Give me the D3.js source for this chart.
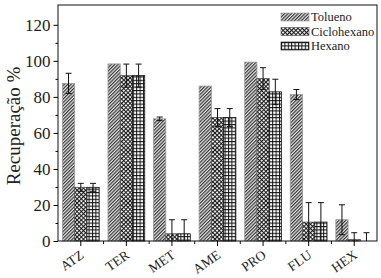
<!DOCTYPE html>
<html>
<head>
<meta charset="utf-8">
<script src="https://cdn.jsdelivr.net/npm/d3@7"></script>
<style>
  body { margin: 0; background: #fff; }
  text { font-family: "Liberation Serif", "Times New Roman", serif; fill: #222; }
</style>
</head>
<body>
<div id="chart-area"></div>
<script>
// data
var categories = ["ATZ", "TER", "MET", "AME", "PRO", "FLU", "HEX"];
var series = ["Tolueno", "Ciclohexano", "Hexano"];

var tolueno    = [87.5, 98.3, 67.8, 86.0, 99.3, 81.3, 11.8];
var toluenoErr = [5.6, 0, 1.0, 0, 0, 2.8, 8.3];
var ciclo      = [29.8, 91.8, 4.0, 68.5, 90.2, 10.5, 0.8];
var cicloErr   = [2.2, 6.4, 7.8, 5.0, 6.0, 10.8, 3.8];
var hexano     = [29.8, 91.8, 4.0, 68.5, 82.8, 10.5, 0];
var hexanoErr  = [2.2, 6.4, 7.8, 5.0, 7.0, 10.8, 4.6];

var yTicks = [0, 20, 40, 60, 80, 100, 120];
var yMinor = [10, 30, 50, 70, 90, 110];

var values = [tolueno, ciclo, hexano];
var errors = [toluenoErr, cicloErr, hexanoErr];

var margin = { left: 58, right: 4, top: 5, bottom: 37 };
var width = 381 - margin.left - margin.right,
    height = 278 - margin.top - margin.bottom;

var svg = d3.select("#chart-area")
    .append("svg")
        .attr("width", width + margin.left + margin.right)
        .attr("height", height + margin.top + margin.bottom);

// fill patterns
var defs = svg.append("defs");

var p1 = defs.append("pattern")
    .attr("id", "pat-tol")
    .attr("patternUnits", "userSpaceOnUse")
    .attr("width", 2.4).attr("height", 2.4)
    .attr("patternTransform", "rotate(45)");
p1.append("rect").attr("width", 2.4).attr("height", 2.4).attr("fill", "#e4e4e4");
p1.append("line").attr("x1", 0.6).attr("y1", 0).attr("x2", 0.6).attr("y2", 2.4)
    .attr("stroke", "#2a2a2a").attr("stroke-width", 1.1);

var p2 = defs.append("pattern")
    .attr("id", "pat-cic")
    .attr("patternUnits", "userSpaceOnUse")
    .attr("width", 3).attr("height", 3)
    .attr("patternTransform", "rotate(45)");
p2.append("rect").attr("width", 3).attr("height", 3).attr("fill", "#fff");
p2.append("line").attr("x1", 0.5).attr("y1", 0).attr("x2", 0.5).attr("y2", 3)
    .attr("stroke", "#1a1a1a").attr("stroke-width", 1.2);
p2.append("line").attr("x1", 0).attr("y1", 0.5).attr("x2", 3).attr("y2", 0.5)
    .attr("stroke", "#1a1a1a").attr("stroke-width", 1.2);

var p3 = defs.append("pattern")
    .attr("id", "pat-hex")
    .attr("patternUnits", "userSpaceOnUse")
    .attr("width", 3.4).attr("height", 3.4);
p3.append("rect").attr("width", 3.4).attr("height", 3.4).attr("fill", "#fff");
p3.append("path").attr("d", "M0,0.5H3.4M0.5,0V3.4")
    .attr("stroke", "#111").attr("stroke-width", 1);

var fills = ["url(#pat-tol)", "url(#pat-cic)", "url(#pat-hex)"];
var strokes = ["#999", "#555", "#111"];

var g = svg.append("g")
    .attr("transform", "translate(" + margin.left + ", " + margin.top + ")");

// scales
var x0 = d3.scaleBand()
    .domain(categories)
    .range([0, width])
    .padding(0);

var x1 = d3.scaleBand()
    .domain(series)
    .range([0, x0.bandwidth()])
    .paddingInner(0)
    .paddingOuter(0.36);

var y = d3.scaleLinear()
    .domain([0, 131])
    .range([height, 0]);

// bars
var rows = [];
series.forEach(function(s, i) {
    categories.forEach(function(c, j) {
        rows.push({ cat: c, ser: s, i: i, value: values[i][j], err: errors[i][j] });
    });
});

g.selectAll("rect.bar")
    .data(rows)
    .enter()
    .append("rect")
        .attr("class", "bar")
        .attr("x", function(d) { return x0(d.cat) + x1(d.ser); })
        .attr("width", x1.bandwidth())
        .attr("y", function(d) { return y(d.value); })
        .attr("height", function(d) { return height - y(d.value); })
        .attr("fill", function(d) { return fills[d.i]; })
        .attr("stroke", function(d) { return strokes[d.i]; })
        .attr("stroke-width", 0.8);

// error bars
var errs = rows.filter(function(d) { return d.err > 0; });
var cap = 3;

var eb = g.selectAll("g.err")
    .data(errs)
    .enter()
    .append("g")
        .attr("class", "err")
        .attr("transform", function(d) {
            return "translate(" + (x0(d.cat) + x1(d.ser) + x1.bandwidth() / 2) + ",0)";
        });

eb.append("line")
    .attr("x1", 0).attr("x2", 0)
    .attr("y1", function(d) { return y(d.value + d.err); })
    .attr("y2", function(d) { return y(Math.max(0, d.value - d.err)); })
    .attr("stroke", "#111").attr("stroke-width", 1);

eb.append("line")
    .attr("x1", -cap).attr("x2", cap)
    .attr("y1", function(d) { return y(d.value + d.err); })
    .attr("y2", function(d) { return y(d.value + d.err); })
    .attr("stroke", "#111").attr("stroke-width", 1);

eb.filter(function(d) { return d.value - d.err > 0; })
    .append("line")
    .attr("x1", -cap).attr("x2", cap)
    .attr("y1", function(d) { return y(d.value - d.err); })
    .attr("y2", function(d) { return y(d.value - d.err); })
    .attr("stroke", "#111").attr("stroke-width", 1);

// frame
g.append("rect")
    .attr("width", width)
    .attr("height", height)
    .attr("fill", "none")
    .attr("stroke", "#111")
    .attr("stroke-width", 1);

// Y axis
var yAxisCall = d3.axisLeft(y).tickValues(yTicks).tickSize(4.5).tickPadding(3);
var yAxisGroup = g.append("g").attr("class", "y axis").call(yAxisCall);
yAxisGroup.select(".domain").remove();
yAxisGroup.selectAll("text").attr("font-size", "17px").style("font-family", "Liberation Serif");

var yMinorCall = d3.axisLeft(y).tickValues(yMinor).tickSize(2.5).tickFormat("");
var yMinorGroup = g.append("g").call(yMinorCall);
yMinorGroup.select(".domain").remove();

// X axis (ticks at band centres)
var xAxisCall = d3.axisBottom(x0).tickSize(5).tickFormat("");
var xAxisGroup = g.append("g")
    .attr("class", "x axis")
    .attr("transform", "translate(0," + height + ")")
    .call(xAxisCall);
xAxisGroup.select(".domain").remove();

// slanted category labels, drawn along short paths
var ang = 35 * Math.PI / 180, len = 40;

defs.selectAll("path.lab")
    .data(categories)
    .enter()
    .append("path")
        .attr("class", "lab")
        .attr("id", function(d) { return "lab-" + d; })
        .attr("d", function(d) {
            var ex = margin.left + x0(d) + x0.bandwidth() / 2 + 4,
                ey = margin.top + height + 16;
            return "M" + (ex - len * Math.cos(ang)) + "," + (ey + len * Math.sin(ang)) +
                   "L" + ex + "," + ey;
        });

svg.selectAll("text.xlab")
    .data(categories)
    .enter()
    .append("text")
        .attr("class", "xlab")
        .attr("font-size", "13.5px")
        .attr("text-anchor", "end")
    .append("textPath")
        .attr("href", function(d) { return "#lab-" + d; })
        .attr("startOffset", "100%")
        .text(function(d) { return d; });

// minor ticks at band boundaries
g.selectAll("line.xtick")
    .data(categories.slice(1))
    .enter()
    .append("line")
        .attr("class", "xtick")
        .attr("x1", function(d) { return x0(d); })
        .attr("x2", function(d) { return x0(d); })
        .attr("y1", height)
        .attr("y2", height + 3)
        .attr("stroke", "#111");

// Y Label
g.append("text")
    .attr("x", -121)
    .attr("y", -margin.left + 20)
    .attr("font-size", "19px")
    .attr("text-anchor", "middle")
    .attr("transform", "rotate(-90)")
    .text("Recuperação %");

// legend
var legend = g.append("g")
    .attr("transform", "translate(" + (width - 96) + ",8)");

var item = legend.selectAll("g")
    .data(series)
    .enter()
    .append("g")
        .attr("transform", function(d, i) { return "translate(0," + (i * 14.5) + ")"; });

item.append("rect")
    .attr("width", 28)
    .attr("height", 8)
    .attr("fill", function(d, i) { return fills[i]; })
    .attr("stroke", function(d, i) { return strokes[i]; })
    .attr("stroke-width", 0.6);

item.append("text")
    .attr("x", 30)
    .attr("y", 8)
    .attr("font-size", "12.5px")
    .text(function(d) { return d; });
</script>
</body>
</html>
